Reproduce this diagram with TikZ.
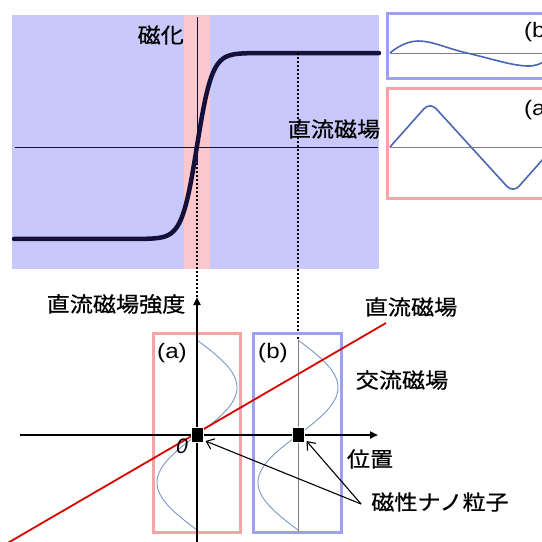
\documentclass[tikz,border=0pt]{standalone}
\usepackage{fontspec}
\setmainfont{Noto Sans CJK JP}[FakeStretch=1.1, FakeBold=0.6]
\newfontfamily\tagfont{Liberation Sans}[FakeStretch=1.15]
\newfontfamily\slantfont{Liberation Sans}[FakeSlant=0.2]
\usetikzlibrary{arrows.meta}
\definecolor{bgblue}{HTML}{C8C8FA}
\definecolor{bandpink}{HTML}{FAC8CC}
\definecolor{boxblue}{HTML}{9F9FF2}
\definecolor{boxpink}{HTML}{F4A4A6}
\definecolor{wave}{HTML}{4A66B4}
\definecolor{thinwave}{HTML}{7A98C8}
\definecolor{curvecol}{HTML}{14103A}

\begin{document}
\begin{tikzpicture}[x=1pt, y=-1pt,
    lbl/.style={inner sep=0pt, font=\fontsize{21}{24}\selectfont},
    tag/.style={inner sep=0pt, font=\tagfont\fontsize{21}{24}\selectfont},
    frame/.style={line width=3pt},
    particle/.style={fill=black, draw=white, line width=1pt, inner sep=0pt, minimum width=12pt, minimum height=15pt},
    axis/.style={line width=2.4pt, -{Triangle[length=8pt,width=7pt]}},
    pointer/.style={line width=1.1pt, -{Straight Barb[length=7pt,width=11pt]}}]
  \clip (0,0) rectangle (542,542);
  \fill[white] (0,0) rectangle (542,542);

  % magnetisation curve
  \fill[bgblue] (12,15) rectangle (379,269);
  \fill[bandpink] (184,15) rectangle (210,269);
  \draw[curvecol, line width=0.8pt] (15,147) -- (378,147);
  \draw[curvecol, line width=0.8pt] (197,17) -- (197,163);
  \draw[curvecol, line width=4.5pt, line cap=round]
    plot[domain=14:379, samples=160, smooth] (\x, {146-93*tanh(max(-4,min(4,(\x-197)/15)))});
  \node[lbl, anchor=east] (mag) at (184,35) {磁化};
  \node[lbl] (dctop) at (334,129) {直流磁場};
  \draw[line width=2pt, dash pattern=on 2pt off 2pt] (197,163) -- (197,297);
  \draw[line width=2pt, dash pattern=on 2pt off 2pt] (298,53) -- (298,340);

  % responses
  \draw[boxblue, frame] (387,13) rectangle (570,78);
  \draw[boxpink, frame] (387,88) rectangle (570,198);
  \draw[gray, line width=0.8pt] (390,53) -- (542,53);
  \draw[gray, line width=0.8pt] (390,147) -- (542,147);
  \draw[wave, line width=1.6pt] plot[smooth, tension=0.7] coordinates {(390,53) (418,41) (467,53) (527,66) (550,56)};
  \draw[wave, line width=1.6pt, rounded corners=9pt] (390,147) -- (430,102) -- (513,193) -- (560,140);
  \node[tag, anchor=west] (tb) at (524,32) {(b)};
  \node[tag, anchor=west] (ta) at (524,110) {(a)};

  % position axis
  \coordinate (o) at (197,435);
  \draw[boxpink, frame] (153,333) rectangle (240,532);
  \draw[boxblue, frame] (253,333) rectangle (341,532);
  \draw[thinwave, line width=0.9pt] plot[domain=340:530, samples=80, smooth] ({197+40*sin((\x-340)/190*360)}, \x);
  \draw[thinwave, line width=0.9pt] plot[domain=340:530, samples=80, smooth] ({298+40*sin((\x-340)/190*360)}, \x);
  \draw[gray, line width=0.8pt] (298,340) -- (298,532);
  \draw[axis] (20,435) -- (378,435);
  \draw[axis] (197,548) -- (197,297);
  \draw[red!85!black, line width=1.8pt] (6,544) -- (386,323);
  \node[particle] (pa) at (o) {};
  \node[particle] (pb) at (298,435) {};

  \node[lbl] (strength) at (116,304) {直流磁場強度};
  \node[lbl] (dcfield) at (411,307) {直流磁場};
  \node[lbl] (acfield) at (402,380) {交流磁場};
  \node[lbl] (pos) at (370,459) {位置};
  \node[lbl] (np) at (440,502) {磁性ナノ粒子};
  \node[tag] (la) at (172,353) {(a)};
  \node[tag] (lb) at (273,353) {(b)};
  \node[inner sep=0pt, font=\slantfont\fontsize{21}{24}\selectfont] (zero) at (181,446) {0};

  \draw[pointer] ([xshift=-10pt,yshift=-2pt]np.west) -- ([xshift=2pt,yshift=2pt]pa.south east);
  \draw[pointer] ([xshift=-10pt,yshift=-2pt]np.west) -- ([xshift=2pt,yshift=2pt]pb.south east);
\end{tikzpicture}
\end{document}
